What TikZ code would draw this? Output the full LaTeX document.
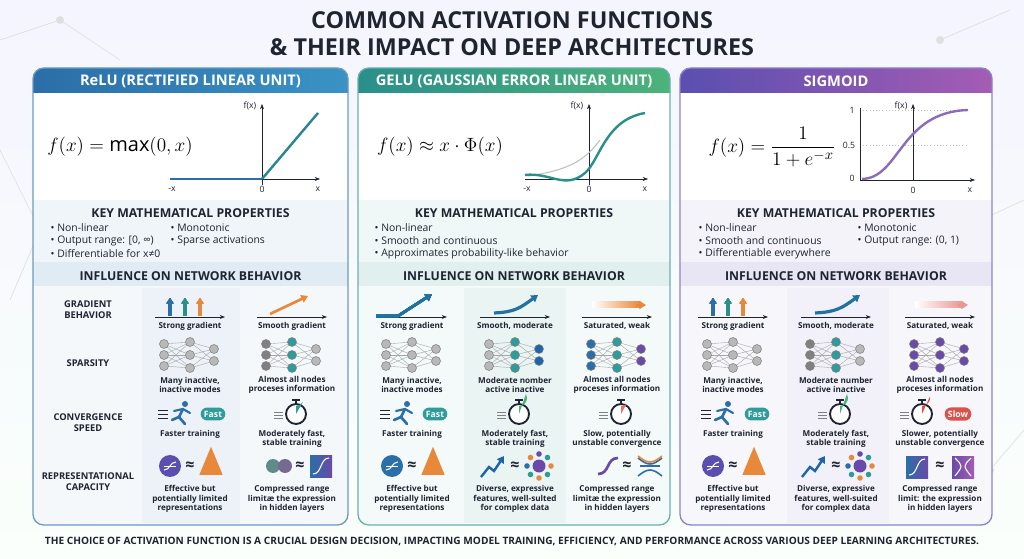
\documentclass[tikz,border=0pt]{standalone}
\usepackage{amsmath}
\usepackage{amssymb}
\usepackage{fontspec}
\setmainfont{Open Sans}
\usetikzlibrary{arrows.meta,shapes.geometric,calc}

\definecolor{relublue}{HTML}{2B6EA8}
\definecolor{relulight}{HTML}{3A93C4}
\definecolor{gelugreen}{HTML}{2A8F8A}
\definecolor{gelulight}{HTML}{4DB37A}
\definecolor{sigpurple}{HTML}{5A4FB0}
\definecolor{siglight}{HTML}{A45CB4}
\definecolor{tealnode}{HTML}{2E9C9A}
\definecolor{greynode}{HTML}{B8B8B8}
\definecolor{orangeic}{HTML}{E8883A}
\definecolor{redic}{HTML}{D9534A}
\definecolor{inkdark}{HTML}{1E2430}
\definecolor{purplenode}{HTML}{6A4AA8}

% network icon: centre x, centre y, left / middle / right colours
\newcommand{\netico}[5]{%
  \foreach \a in {-11,0,11}
    \foreach \b in {-13,0,13}
      \draw[gray!70, line width=0.3pt] ({#1-26},{#2+\a}) -- ({#1},{#2+\b});
  \foreach \b in {-13,0,13}
    \foreach \c in {-6,6}
      \draw[gray!70, line width=0.3pt] ({#1},{#2+\b}) -- ({#1+24},{#2+\c});
  \foreach \a in {-11,0,11} \fill[#3, draw=gray] ({#1-26},{#2+\a}) circle (4.5);
  \foreach \b in {-13,0,13} \fill[#4, draw=gray] ({#1},{#2+\b}) circle (4.5);
  \foreach \c in {-6,6} \fill[#5, draw=gray] ({#1+24},{#2+\c}) circle (4.5);
}
% stopwatch icon: centre x, centre y, sector colour, sector angle
\newcommand{\watch}[4]{%
  \fill[white, draw=inkdark, line width=1.4pt] (#1,#2) circle (10);
  \fill[#3] (#1,#2) -- ++(0,-8) arc[start angle=90, end angle={90-#4}, radius=8] -- cycle;
  \draw[inkdark, line width=1.5pt] (#1,{#2-10}) -- (#1,{#2-14});
  \draw[inkdark, line width=1.2pt] ({#1-4},{#2-14}) -- ({#1+4},{#2-14});
  \foreach \s in {-2,1,4} \draw[gray, line width=0.6pt] ({#1-22},{#2+\s}) -- ({#1-13},{#2+\s});
}
% runner icon
\newcommand{\runner}[2]{%
  \fill[relublue] ({#1+5},{#2-10}) circle (3);
  \draw[relublue, line width=2pt, line cap=round] ({#1+3},{#2-5}) -- ({#1-1},{#2+3}) -- ({#1+5},{#2+10});
  \draw[relublue, line width=2pt, line cap=round] ({#1-1},{#2+3}) -- ({#1-8},{#2+6});
  \draw[relublue, line width=1.6pt, line cap=round] ({#1-6},{#2-3}) -- ({#1+3},{#2-5}) -- ({#1+10},{#2-1});
  \foreach \s in {-4,0,4} \draw[inkdark, line width=0.6pt] ({#1-22},{#2+\s}) -- ({#1-12},{#2+\s});
}
% up arrows for strong gradient
\newcommand{\uparrows}[1]{%
  \draw[-{Triangle[length=4pt,width=5pt]}, relublue, line width=2.4pt] ({#1-20},316) -- ({#1-20},298);
  \draw[-{Triangle[length=4pt,width=5pt]}, gelugreen, line width=2.4pt] ({#1-5},316) -- ({#1-5},298);
  \draw[-{Triangle[length=4pt,width=5pt]}, orangeic, line width=2.4pt] ({#1+10},316) -- ({#1+10},298);
}
\newcommand{\gaxis}[1]{\draw[-{Stealth[length=4pt]}, inkdark, line width=0.7pt] ({#1-35},317) -- ({#1+35},317);}

\tikzset{
  title/.style={font=\bfseries\fontsize{17.5}{20}\selectfont, text=inkdark},
  head/.style={font=\bfseries\fontsize{11}{12}\selectfont, text=white},
  band/.style={font=\bfseries\fontsize{9.2}{10}\selectfont, text=inkdark},
  bullet/.style={font=\fontsize{7.8}{9}\selectfont, text=inkdark, anchor=west},
  rowlab/.style={font=\bfseries\fontsize{7}{8.2}\selectfont, text=inkdark, align=center},
  small/.style={font=\bfseries\fontsize{6.1}{7}\selectfont, text=inkdark, align=center},
  axlab/.style={font=\fontsize{6.5}{7}\selectfont, text=inkdark},
  pill/.style={rounded corners=5pt, font=\bfseries\fontsize{6.5}{7}\selectfont, text=white, inner sep=2.5pt},
}

\begin{document}
\begin{tikzpicture}[x=0.75pt, y=-0.75pt]
  \useasboundingbox (0,0) rectangle (1024,559);
  \fill[top color=white!90!blue!40, bottom color=white!94!green!30] (0,0) rectangle (1024,559);
  % faint background network
  \foreach \p/\q in {{0,40}/{60,20}, {60,20}/{120,60}, {0,150}/{40,230}, {40,230}/{10,300}, {940,40}/{1010,10}, {960,230}/{1024,200}, {990,470}/{1024,430}}
    \draw[gray!25, line width=0.5pt] (\p) -- (\q);
  \foreach \p in {{60,20}, {40,230}, {940,40}, {960,230}, {990,470}}
    \fill[gray!25] (\p) circle (4);

  \node[title] (t1) at (512,20) {COMMON ACTIVATION FUNCTIONS};
  \node[title] (t2) at (512,47) {\& THEIR IMPACT ON DEEP ARCHITECTURES};

  % panels
  \foreach \xa/\xb/\ca/\cb/\tint/\nm in {33/348/relublue/relulight/relublue/ReLU (RECTIFIED LINEAR UNIT), 358/670/gelugreen/gelulight/gelugreen/GELU (GAUSSIAN ERROR LINEAR UNIT), 680/992/sigpurple/siglight/sigpurple/SIGMOID}{
    \fill[white, rounded corners=8pt] (\xa,68) rectangle (\xb,525);
    \fill[\tint!7] (\xa,200) rectangle (\xb,262);
    \fill[\tint!14] (\xa,262) rectangle (\xb,286);
    \fill[\tint!5, rounded corners=8pt] (\xa,286) rectangle (\xb,525);
    \fill[\tint!5] (\xa,286) rectangle (\xb,300);
    \shade[left color=\ca, right color=\cb, rounded corners=8pt] (\xa,68) rectangle (\xb,93);
    \shade[left color=\ca, right color=\cb] (\xa,82) rectangle (\xb,93);
    \draw[\tint!70, line width=1pt, rounded corners=8pt] (\xa,68) rectangle (\xb,525);
    \node[head] at ({(\xa+\xb)/2},81) {\nm};
    \node[band] at ({(\xa+\xb)/2},213) {KEY MATHEMATICAL PROPERTIES};
    \node[band] at ({(\xa+\xb)/2},276) {INFLUENCE ON NETWORK BEHAVIOR};
  }
  % column tints
  \fill[relublue!9] (142,288) rectangle (240,523);
  \fill[gelugreen!10] (464,288) rectangle (566,523);
  \fill[sigpurple!8] (787,288) rectangle (889,523);

  % ---- ReLU formula and plot
  \node (frelu) at (120,147) {\fontsize{15}{17}\selectfont $f(x) = \mathop{\textrm{max}}(0, x)$};
  \draw[-{Stealth[length=4pt]}, inkdark] (170,179) -- (320,179);
  \draw[-{Stealth[length=4pt]}, inkdark] (262,185) -- (262,104);
  \draw[relublue, line width=1.8pt] (170,179) -- (262,179);
  \draw[gelugreen!70!relublue, line width=1.8pt] (262,179) -- (318,113);
  \node[axlab] at (172,189) {-x};
  \node[axlab] at (262,189) {0};
  \node[axlab] at (318,189) {x};
  \node[axlab] at (250,106) {f(x)};

  % ---- GELU formula and plot
  \node (fgelu) at (440,147) {\fontsize{15}{17}\selectfont $f(x) \approx x \cdot \Phi(x)$};
  \draw[-{Stealth[length=4pt]}, inkdark] (525,179) -- (648,179);
  \draw[-{Stealth[length=4pt]}, inkdark] (589,185) -- (589,104);
  \draw[gray!50, line width=0.8pt] (528,176) .. controls (570,170) and (585,160) .. (600,140);
  \draw[gelugreen, line width=1.8pt] (525,175) .. controls (550,172) and (565,190) .. (585,173)
      .. controls (600,160) and (605,120) .. (645,113);
  \node[axlab] at (527,189) {-x};
  \node[axlab] at (589,189) {0};
  \node[axlab] at (645,189) {x};
  \node[axlab] at (577,106) {f(x)};

  % ---- Sigmoid formula and plot
  \node (fsig) at (772,147) {\fontsize{15}{17}\selectfont $f(x) = \dfrac{1}{1+e^{-x}}$};
  \draw[gray!50, dotted] (860,110) -- (968,110);
  \draw[gray!50, dotted] (860,145) -- (968,145);
  \draw[inkdark] (860,108) -- (860,180);
  \draw[-{Stealth[length=4pt]}, inkdark] (860,180) -- (975,180);
  \draw[-{Stealth[length=4pt]}, inkdark] (913,180) -- (913,104);
  \draw[purplenode!80, line width=1.8pt] (862,179) .. controls (900,178) and (900,112) .. (968,110);
  \node[axlab] at (852,110) {1};
  \node[axlab] at (849,145) {0.5};
  \node[axlab] at (852,178) {0};
  \node[axlab] at (913,190) {0};
  \node[axlab] at (970,190) {x};
  \node[axlab] at (901,106) {f(x)};

  % ---- key properties
  \node[bullet] at (46,228) {• Non-linear};
  \node[bullet] at (46,241) {• Output range: [0, ∞)};
  \node[bullet] at (46,254) {• Differentiable for x≠0};
  \node[bullet] at (166,228) {• Monotonic};
  \node[bullet] at (166,241) {• Sparse activations};
  \node[bullet] at (370,228) {• Non-linear};
  \node[bullet] at (370,241) {• Smooth and continuous};
  \node[bullet] at (370,254) {• Approximates probability-like behavior};
  \node[bullet] at (694,228) {• Non-linear};
  \node[bullet] at (694,241) {• Smooth and continuous};
  \node[bullet] at (694,254) {• Differentiable everywhere};
  \node[bullet] at (853,228) {• Monotonic};
  \node[bullet] at (853,241) {• Output range: (0, 1)};

  % ---- row labels
  \node[rowlab] at (88,310) {GRADIENT\\BEHAVIOR};
  \node[rowlab] at (88,363) {SPARSITY};
  \node[rowlab] at (88,423) {CONVERGENCE\\SPEED};
  \node[rowlab] at (88,482) {REPRESENTATIONAL\\CAPACITY};

  % ---- gradient row
  \foreach \cx in {190,292,412,515,617,733,836,940} \gaxis{\cx}
  \uparrows{190}
  \uparrows{733}
  \draw[-{Triangle[length=5pt,width=6pt]}, gelugreen!80!blue, line width=2pt] (376,316) -- (398,316) -- (432,294);
  \draw[-{Triangle[length=5pt,width=6pt]}, orangeic, line width=2pt] (270,314) -- (308,296);
  \draw[-{Triangle[length=5pt,width=6pt]}, gelugreen!80!blue, line width=2.4pt] (494,313) .. controls (515,312) and (520,308) .. (538,295);
  \draw[-{Triangle[length=5pt,width=6pt]}, gelugreen!80!blue, line width=2.4pt] (815,313) .. controls (836,312) and (842,308) .. (860,295);
  \shade[left color=white, right color=orangeic] (592,302) rectangle (640,308);
  \draw[-{Triangle[length=5pt,width=6pt]}, orangeic, line width=2pt] (636,305) -- (646,305);
  \shade[left color=white, right color=redic!60] (915,302) rectangle (962,308);
  \draw[-{Triangle[length=5pt,width=6pt]}, redic!60, line width=2pt] (958,305) -- (968,305);
  \foreach \cx/\tx in {190/Strong gradient, 292/Smooth gradient, 412/Strong gradient, 515/{Smooth, moderate}, 617/{Saturated, weak}, 733/Strong gradient, 836/{Smooth, moderate}, 940/{Saturated, weak}}
    \node[small] at (\cx,326) {\tx};

  % ---- sparsity row
  \netico{190}{355}{greynode}{greynode}{greynode}
  \netico{292}{355}{gray}{tealnode}{greynode}
  \netico{412}{355}{greynode}{greynode}{greynode}
  \netico{515}{355}{greynode}{tealnode}{gelugreen!70!blue}
  \netico{617}{355}{relublue}{tealnode}{purplenode}
  \netico{733}{355}{greynode}{greynode}{greynode}
  \netico{836}{355}{gray}{tealnode}{greynode}
  \netico{940}{355}{purplenode}{purplenode}{purplenode}
  \foreach \cx/\tx in {190/{Many inactive,\\inactive modes}, 292/{Almost all nodes\\proceses information}, 412/{Many inactive,\\inactive modes}, 515/{Moderate nomber\\active inactive}, 617/{Almost all nodes\\proceses information}, 733/{Many inactive,\\inactive modes}, 836/{Moderate number\\active inactive}, 940/{Almost all nodes\\proceses information}}
    \node[small] at (\cx,385) {\tx};

  % ---- convergence row
  \runner{180}{414}
  \node[pill, fill=tealnode] (fast1) at (213,414) {Fast};
  \runner{402}{414}
  \node[pill, fill=tealnode] (fast2) at (435,414) {Fast};
  \runner{723}{414}
  \node[pill, fill=tealnode] (fast3) at (757,414) {Fast};
  \watch{296}{414}{tealnode}{60}
  \watch{519}{414}{gelulight}{120}
  \watch{621}{414}{redic!80}{45}
  \watch{840}{414}{gelulight}{120}
  \watch{922}{414}{redic}{100}
  \node[pill, fill=redic] (slow) at (958,414) {Slow};
  \foreach \cx/\tx in {190/{Faster training\\\strut}, 292/{Moderately fast,\\stable training}, 412/{Faster training\\\strut}, 515/{Moderately fast,\\stable training}, 617/{Slow, potentially\\unstable convergence}, 733/{Faster training\\\strut}, 836/{Moderately fast,\\stable training}, 940/{Slower, potentially\\unstable convergence}}
    \node[small] at (\cx,439) {\tx};

  % ---- capacity row
  \foreach \cx/\cc in {170/sigpurple, 392/relublue, 713/sigpurple}{
    \fill[\cc] (\cx,466) circle (11);
    \draw[white, line width=0.8pt] ({\cx-6},470) .. controls ({\cx},470) and ({\cx},462) .. ({\cx+6},462);
    \draw[white, line width=0.5pt] ({\cx-6},466) -- ({\cx+6},466);
    \node[font=\bfseries\large, text=inkdark] at ({\cx+20},466) {≈};
    \node[isosceles triangle, shape border rotate=90, fill=orangeic, minimum height=21pt, inner sep=0pt] at ({\cx+41},467) {};
  }
  % ReLU col 2
  \fill[gray!60!tealnode] (273,466) circle (7);
  \fill[gray!60!purplenode] (285,466) circle (7);
  \node[font=\bfseries\large, text=inkdark] at (300,466) {≈};
  \shade[left color=relublue, right color=purplenode] (310,455) rectangle (332,477);
  \draw[white, line width=0.8pt] (313,474) .. controls (322,474) and (320,458) .. (329,458);
  % GELU / Sigmoid col 2
  \foreach \cx in {515,836}{
    \draw[-{Triangle[length=5pt,width=6pt]}, draw=gelugreen!70!blue, line width=1.8pt] ({\cx-34},477) -- ({\cx-26},467) -- ({\cx-21},471) -- ({\cx-11},456);
    \node[font=\bfseries\large, text=inkdark] at ({\cx},466) {≈};
    \fill[purplenode] ({\cx+24},466) circle (6.5);
    \foreach \ang/\col in {0/orangeic, 45/tealnode, 90/orangeic, 135/tealnode, 180/relublue, 225/orangeic, 270/purplenode, 315/tealnode}
      \fill[\col] ($({\cx+24},466)+(\ang:12)$) circle (2.8);
  }
  % GELU col 3
  \draw[purplenode, line width=2pt] (598,474) .. controls (610,474) and (606,458) .. (618,458);
  \node[font=\bfseries\large, text=inkdark] at (627,466) {≈};
  \draw[relublue, line width=1.2pt] (638,458) .. controls (648,466) and (652,466) .. (662,458);
  \draw[orangeic, line width=1.2pt] (638,456) .. controls (648,464) and (652,464) .. (662,456);
  \draw[relublue, line width=1.2pt] (638,476) .. controls (648,468) and (652,468) .. (662,476);
  \draw[relublue, line width=1pt] (640,466) -- (660,466);
  % Sigmoid col 3
  \shade[left color=relublue, right color=purplenode] (906,456) rectangle (928,478);
  \draw[white, line width=0.8pt] (909,475) .. controls (918,475) and (916,459) .. (925,459);
  \node[font=\bfseries\large, text=inkdark] at (940,466) {≈};
  \shade[left color=purplenode, right color=siglight] (952,456) rectangle (974,478);
  \draw[white, line width=0.8pt] (955,458) .. controls (963,466) and (963,466) .. (955,476);
  \draw[white, line width=0.8pt] (971,458) .. controls (963,466) and (963,466) .. (971,476);
  \foreach \cx/\tx in {190/{Effective but\\potentially limited\\representations}, 292/{Compressed range\\limitæ the expression\\in hidden layers}, 412/{Effective but\\potentially limited\\representations}, 515/{Diverse, expressive\\features, well-sulted\\for complex data}, 617/{Compressed range\\limitæ the expression\\in hidden layers}, 733/{Effective but\\potentially limited\\representations}, 836/{Diverse, expressive\\features, well-suited\\for complex data}, 940/{Compressed range\\limit: the expression\\in hidden layers}}
    \node[small] at (\cx,499) {\tx};

  \node[font=\bfseries\fontsize{7.6}{9}\selectfont, text=inkdark] (foot) at (512,541) {THE CHOICE OF ACTIVATION FUNCTION IS A CRUCIAL DESIGN DECISION, IMPACTING MODEL TRAINING, EFFICIENCY, AND PERFORMANCE ACROSS VARIOUS DEEP LEARNING ARCHITECTURES.};
\end{tikzpicture}
\end{document}
